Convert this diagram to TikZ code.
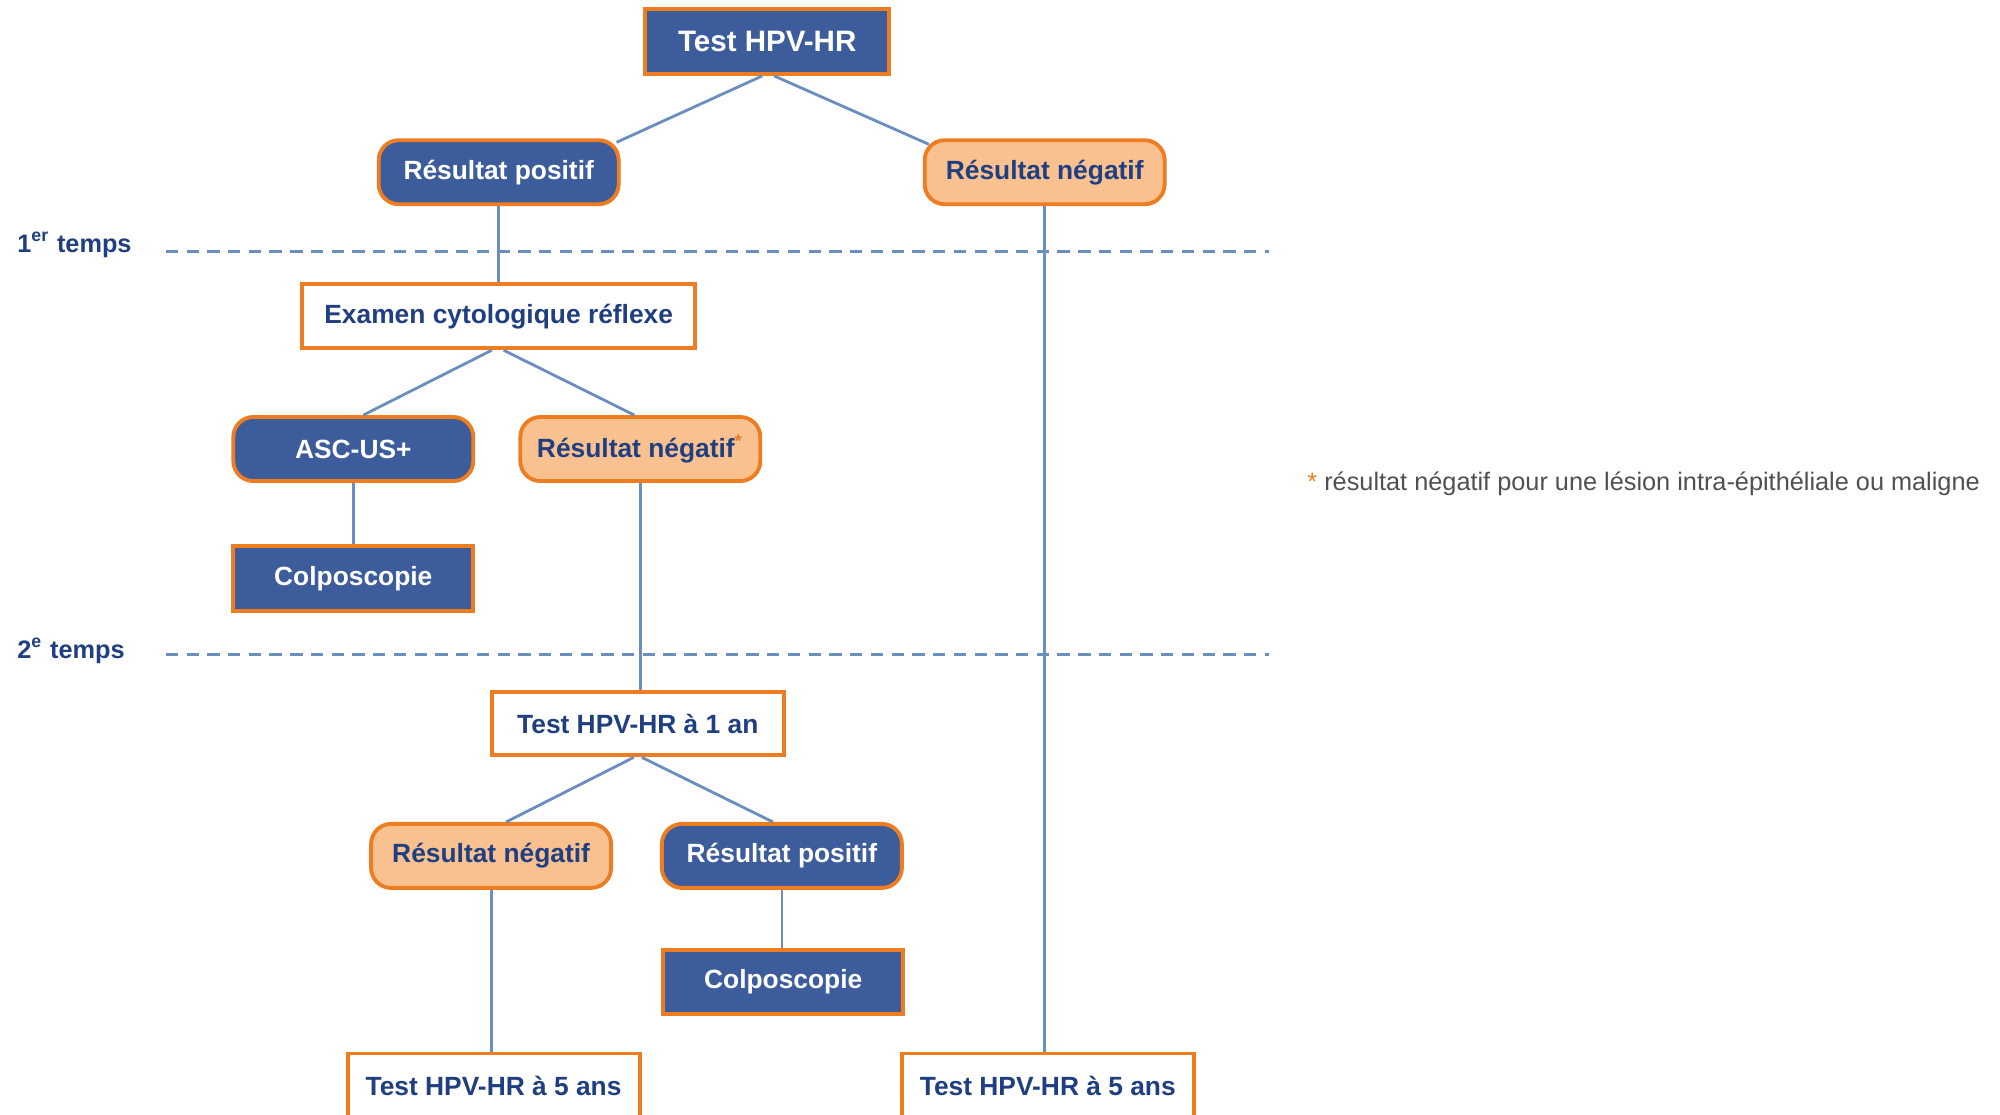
\documentclass[tikz,border=0pt]{standalone}
\usepackage{fontspec}
\setmainfont{Liberation Sans}
\definecolor{bleuHPV}{HTML}{3C5C9C}
\definecolor{orangeHPV}{HTML}{EE7D22}
\definecolor{orangeclair}{HTML}{F9C18F}
\definecolor{texteHPV}{HTML}{1F3F80}
\definecolor{traitHPV}{HTML}{6A8FBF}
\definecolor{grisnote}{HTML}{505050}
\tikzset{
    boite/.style={draw=orangeHPV, line width=1.1pt, minimum height=0.64cm, inner sep=0pt,
      font=\bfseries\fontsize{7.5}{9}\selectfont},
    positif/.style={boite, fill=bleuHPV, text=white, rounded corners=0.2cm, minimum width=2.4cm},
    negatif/.style={boite, fill=orangeclair, text=texteHPV, rounded corners=0.2cm, minimum width=2.4cm},
    examen/.style={boite, fill=white, text=texteHPV, minimum width=2.92cm},
    colpo/.style={boite, fill=bleuHPV, text=white, minimum width=2.4cm},
    lien/.style={draw=traitHPV, line width=0.8pt},
    temps/.style={draw=traitHPV, line width=0.8pt, dash pattern=on 3.5pt off 2.4pt},
    etiquette/.style={anchor=west, text=texteHPV, font=\bfseries\fontsize{7.2}{9}\selectfont},
  }
\begin{document}
\begin{tikzpicture}
	\useasboundingbox (0,0) rectangle (20,-11.148);
	\clip (0,0) rectangle (20,-11.148);

	%lignes des temps
	\coordinate (T1a) at (1.658,-2.513);
	\coordinate (T1b) at (12.691,-2.513);
	\coordinate (T2a) at (1.658,-6.543);
	\coordinate (T2b) at (12.691,-6.543);
	\draw[temps] (T1a) -- (T1b);
	\draw[temps] (T2a) -- (T2b);
	\node[etiquette] (temps1) at (0.05,-2.45) {1\textsuperscript{er} temps};
	\node[etiquette] (temps2) at (0.05,-6.51) {2\textsuperscript{e} temps};

	%test initial
	\node[colpo, minimum width=2.44cm, minimum height=0.65cm, font=\bfseries\fontsize{8.4}{10}\selectfont] (test) at (7.672,-0.415) {Test HPV-HR};
	\node[positif] (pos1) at (4.987,-1.722) {Résultat positif};
	\node[negatif] (neg1) at (10.447,-1.722) {Résultat négatif};

	%cytologie
	\node[examen, minimum width=3.93cm] (cyto) at (4.987,-3.163) {Examen cytologique réflexe};
	\node[positif] (asc) at (3.533,-4.490) {ASC-US+};
	\node[negatif] (neg2) at (6.403,-4.490) {Résultat négatif\textsuperscript{\color{orangeHPV}*}};
	\node[colpo, minimum height=0.65cm] (colpo1) at (3.533,-5.784) {Colposcopie};

	%2e temps
	\node[examen, minimum height=0.63cm] (an1) at (6.378,-7.239) {Test HPV-HR à 1 an};
	\node[negatif] (neg3) at (4.911,-8.559) {Résultat négatif};
	\node[positif] (pos3) at (7.819,-8.559) {Résultat positif};
	\node[colpo] (colpo2) at (7.832,-9.821) {Colposcopie};
	\node[examen] (ans5a) at (4.936,-10.855) {Test HPV-HR à 5 ans};
	\node[examen] (ans5b) at (10.478,-10.855) {Test HPV-HR à 5 ans};

	%liens
	\draw[lien] ([xshift=-0.05cm]test.south) -- ([xshift=-0.04cm,yshift=-0.04cm]pos1.north east);
	\draw[lien] ([xshift=0.07cm]test.south) -- ([xshift=0.06cm,yshift=-0.06cm]neg1.north west);
	\draw[lien] (pos1) -- (cyto);
	\draw[lien] ([xshift=-0.07cm]cyto.south) -- ([xshift=0.1cm]asc.north);
	\draw[lien] ([xshift=0.05cm]cyto.south) -- ([xshift=-0.06cm]neg2.north);
	\draw[lien] (asc) -- (colpo1);
	\draw[lien] (neg2.south) -- (neg2.south |- an1.north);
	\draw[lien] ([xshift=-0.04cm]an1.south) -- ([xshift=0.15cm]neg3.north);
	\draw[lien] ([xshift=0.04cm]an1.south) -- ([xshift=-0.09cm]pos3.north);
	\draw[lien] (neg3.south) -- (neg3.south |- ans5a.north);
	\draw[lien] (pos3.south) -- (pos3.south |- colpo2.north);
	\draw[lien] (neg1.south) -- (neg1.south |- ans5b.north);

	%note
	\node[anchor=west, text=grisnote, font=\fontsize{7.2}{9}\selectfont] (note) at (12.95,-4.834)
	  {\textcolor{orangeHPV}{*} résultat négatif pour une lésion intra-épithéliale ou maligne};
\end{tikzpicture}
\end{document}
